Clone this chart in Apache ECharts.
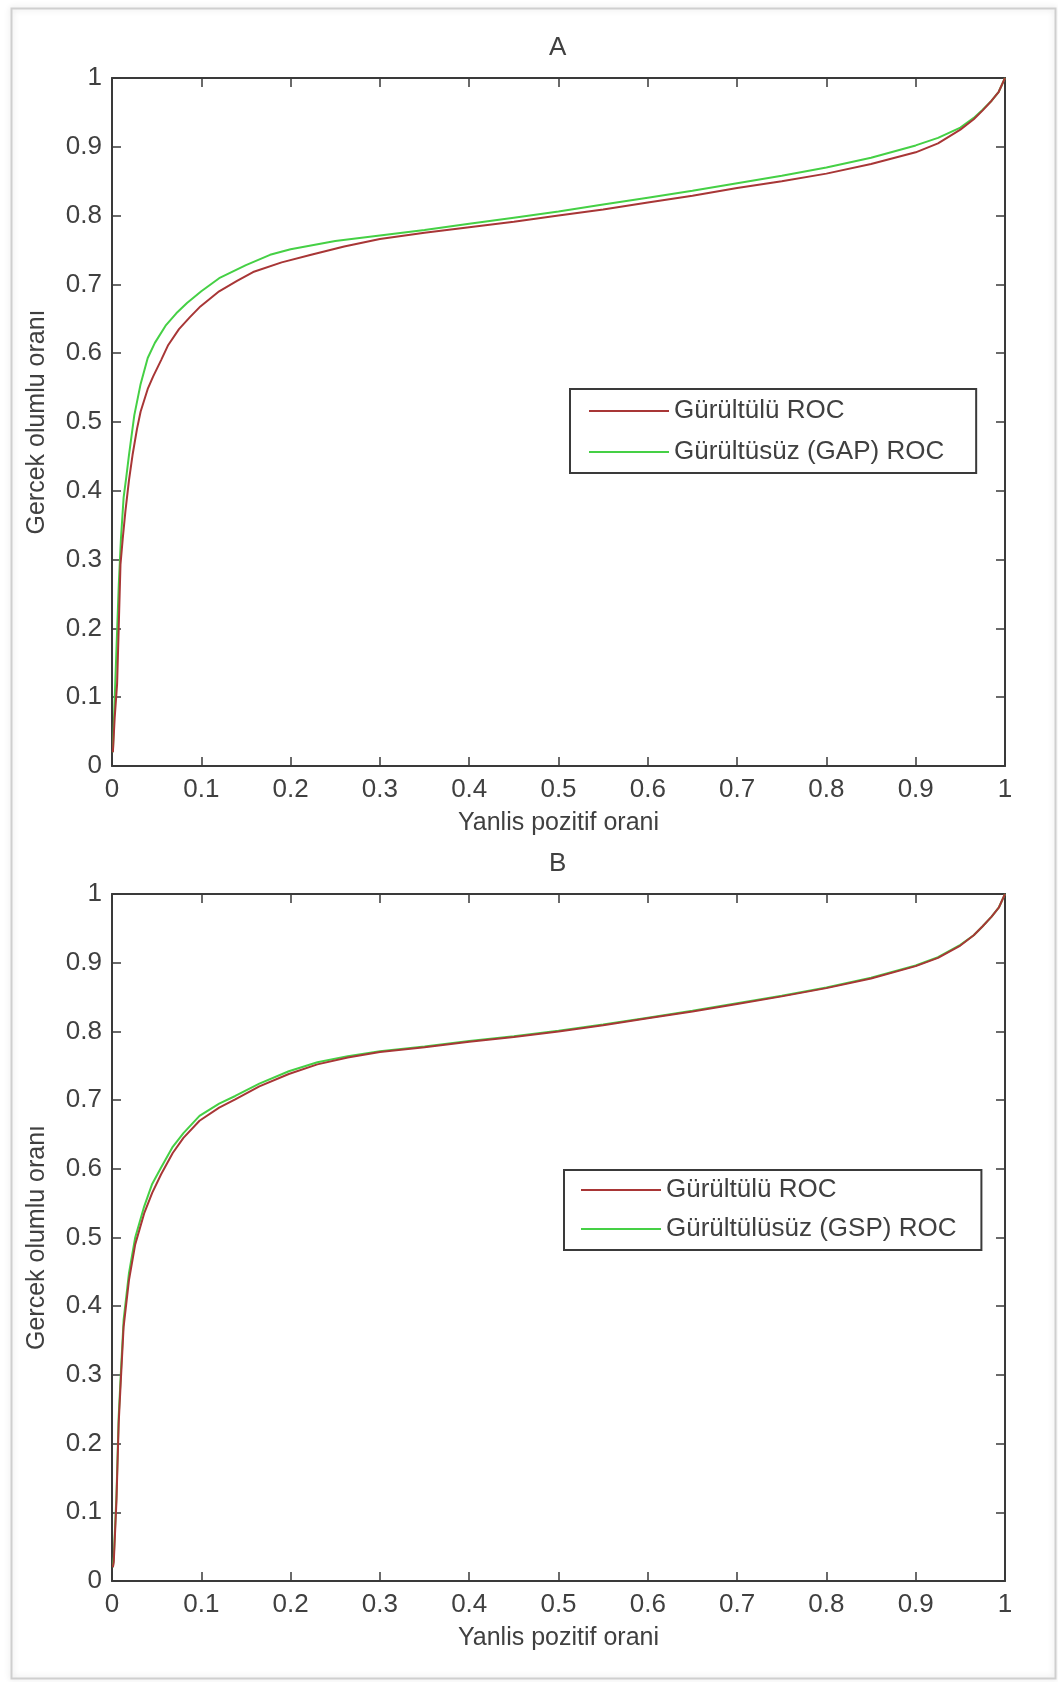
<!DOCTYPE html>
<html>
<head>
<meta charset="utf-8">
<script src="https://cdn.jsdelivr.net/npm/echarts@6/dist/echarts.min.js"></script>
<style>
  html,body{margin:0;padding:0;background:#fff;}
  #b{width:1058px;height:1682px;}
</style>
</head>
<body>
<div id="b"></div>
<script>
// A: gurultulu / gurultusuz (GAP)
var fprA_red=[0.001,0.003,0.0057,0.0075,0.0095,0.012,0.015,0.019,0.023,0.028,0.032,0.04,0.046,0.055,0.063,0.075,0.087,0.099,0.12,0.14,0.158,0.19,0.223,0.26,0.3,0.35,0.4,0.45,0.5,0.55,0.6,0.65,0.7,0.75,0.8,0.85,0.9,0.925,0.95,0.965,0.975,0.985,0.993,1.0];
var tprA_red=[0.02,0.07,0.119,0.2,0.293,0.33,0.37,0.415,0.452,0.49,0.515,0.548,0.566,0.59,0.612,0.635,0.652,0.668,0.69,0.705,0.718,0.732,0.743,0.755,0.766,0.775,0.783,0.791,0.8,0.809,0.819,0.829,0.84,0.85,0.861,0.875,0.892,0.905,0.925,0.94,0.953,0.967,0.98,1.0];
var fprA_green=[0.001,0.002,0.005,0.0076,0.01,0.013,0.016,0.019,0.025,0.032,0.04,0.048,0.06,0.072,0.084,0.1,0.12,0.15,0.177,0.2,0.25,0.3,0.35,0.4,0.45,0.5,0.55,0.6,0.65,0.7,0.75,0.8,0.85,0.9,0.925,0.95,0.965,0.975,0.985,0.993,1.0];
var tprA_green=[0.02,0.06,0.17,0.264,0.33,0.39,0.42,0.452,0.51,0.555,0.593,0.615,0.64,0.658,0.673,0.69,0.709,0.728,0.743,0.751,0.763,0.771,0.779,0.788,0.797,0.806,0.816,0.826,0.836,0.847,0.858,0.87,0.884,0.902,0.913,0.928,0.942,0.954,0.967,0.98,1.0];
// B: gurultulu / gurultulusuz (GSP)
var fprB=[0.001,0.002,0.005,0.0075,0.01,0.013,0.019,0.026,0.036,0.045,0.055,0.068,0.08,0.098,0.12,0.138,0.165,0.198,0.23,0.264,0.3,0.35,0.4,0.45,0.5,0.55,0.6,0.65,0.7,0.75,0.8,0.85,0.9,0.925,0.95,0.965,0.975,0.985,0.993,1.0];
var tprB_red=[0.02,0.028,0.117,0.23,0.295,0.37,0.438,0.49,0.535,0.565,0.592,0.623,0.645,0.67,0.689,0.701,0.72,0.738,0.752,0.762,0.77,0.777,0.785,0.792,0.8,0.809,0.819,0.829,0.84,0.851,0.863,0.877,0.895,0.907,0.925,0.94,0.953,0.967,0.98,1.0];
var tprB_green=[0.02,0.035,0.125,0.24,0.305,0.38,0.448,0.5,0.545,0.578,0.602,0.632,0.652,0.677,0.695,0.706,0.724,0.742,0.755,0.764,0.771,0.778,0.786,0.793,0.801,0.81,0.82,0.83,0.841,0.852,0.864,0.878,0.896,0.908,0.926,0.94,0.953,0.967,0.98,1.0];

var nameRed='Gürültülü ROC';
var nameGreenA='Gürültüsüz (GAP) ROC';
var nameGreenB='Gürültülüsüz (GSP) ROC';

var FONT="'Liberation Sans', Arial, sans-serif";
var TXT='#404040';
var AX='#3a3a3a';
var RED='#a83636';
var GREEN='#45d045';

function zip(xs,ys){
  var out=[];
  for(var i=0;i<xs.length;i++){out.push([xs[i],ys[i]]);}
  return out;
}

function axX(g,pos,withLabels){
  return {
    type:'value',gridIndex:g,position:pos,min:0,max:1,interval:0.1,
    name:withLabels?'Yanlis pozitif orani':'',
    nameLocation:'middle',nameGap:45,
    nameTextStyle:{fontSize:25,color:TXT,fontFamily:FONT},
    axisLine:{show:true,onZero:false,lineStyle:{color:AX,width:2}},
    axisTick:{show:true,inside:true,length:9,lineStyle:{color:AX,width:1.5}},
    axisLabel:{show:withLabels,margin:11,fontSize:26,color:TXT,fontFamily:FONT},
    splitLine:{show:false}
  };
}
function axY(g,pos,withLabels){
  return {
    type:'value',gridIndex:g,position:pos,min:0,max:1,interval:0.1,
    name:withLabels?'Gercek olumlu oranı':'',
    nameLocation:'middle',nameGap:62,
    nameTextStyle:{fontSize:25,color:TXT,fontFamily:FONT},
    axisLine:{show:true,onZero:false,lineStyle:{color:AX,width:2}},
    axisTick:{show:true,inside:true,length:9,lineStyle:{color:AX,width:1.5}},
    axisLabel:{show:withLabels,margin:10,fontSize:26,color:TXT,fontFamily:FONT},
    splitLine:{show:false}
  };
}
function line(name,data,color,xi,z){
  return {
    name:name,type:'line',data:data,xAxisIndex:xi,yAxisIndex:xi,
    symbol:'none',smooth:false,z:z,
    lineStyle:{color:color,width:2},itemStyle:{color:color},
    emphasis:{disabled:true},animation:false
  };
}
function legend(left,top,pad,gap,names){
  return {
    orient:'vertical',left:left,top:top,padding:pad,itemGap:gap,
    itemWidth:80,itemHeight:26,
    itemStyle:{opacity:0},
    borderColor:AX,borderWidth:2,backgroundColor:'#fff',borderRadius:0,
    textStyle:{fontSize:26,color:TXT,fontFamily:FONT},
    data:names
  };
}

var myChart=echarts.init(document.getElementById('b'));
option={
  backgroundColor:'#fff',
  animation:false,
  title:[
    {text:'A',left:549,top:35,padding:0,textStyle:{fontSize:26,fontWeight:'normal',color:TXT,fontFamily:FONT}},
    {text:'B',left:549,top:851,padding:0,textStyle:{fontSize:26,fontWeight:'normal',color:TXT,fontFamily:FONT}}
  ],
  grid:[
    {left:112,top:78,width:893,height:688},
    {left:112,top:894,width:893,height:687}
  ],
  xAxis:[axX(0,'bottom',true),axX(0,'top',false),axX(1,'bottom',true),axX(1,'top',false)],
  yAxis:[axY(0,'left',true),axY(0,'right',false),axY(1,'left',true),axY(1,'right',false)],
  legend:[
    legend(570,389,[9,32,8,18],15,[nameRed,nameGreenA]),
    legend(564,1170,[7,25,8,16],13,[nameRed,nameGreenB])
  ],
  graphic:[{
    type:'rect',left:9,top:6,z:-10,
    shape:{width:1044,height:1670},
    style:{fill:'none',stroke:'#cfcfcf',lineWidth:2,shadowBlur:6,shadowColor:'rgba(0,0,0,0.15)'}
  }],
  series:[
    line(nameRed,zip(fprA_red,tprA_red),RED,0,3),
    line(nameGreenA,zip(fprA_green,tprA_green),GREEN,0,2),
    line(nameGreenB,zip(fprB,tprB_green),GREEN,2,2),
    line(nameRed,zip(fprB,tprB_red),RED,2,3)
  ]
};
option && myChart.setOption(option);
</script>
</body>
</html>
